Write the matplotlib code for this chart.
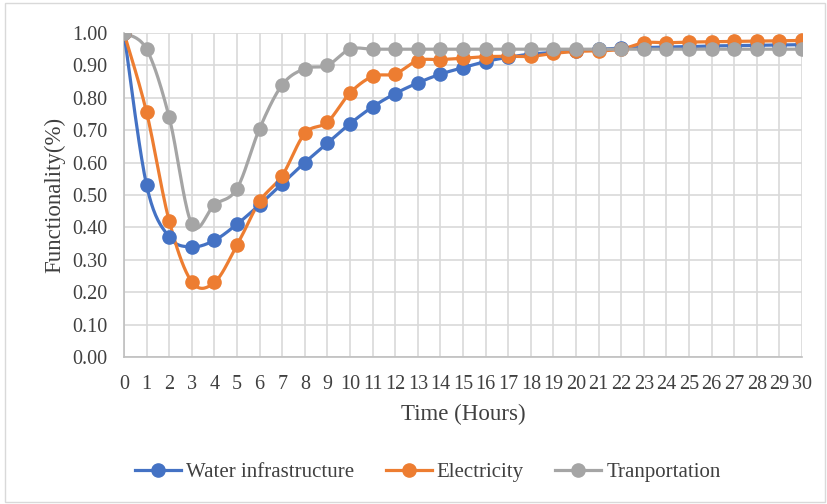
import numpy as np
import matplotlib
matplotlib.use("Agg")
import matplotlib.pyplot as plt
from matplotlib.lines import Line2D

hours = list(range(31))
water = [1.00, 0.53, 0.37, 0.34, 0.36, 0.41, 0.47, 0.535, 0.60, 0.66, 0.72,
         0.772, 0.813, 0.846, 0.873, 0.893, 0.912, 0.925, 0.935, 0.94, 0.945,
         0.95, 0.953, 0.955, 0.957, 0.958, 0.96, 0.961, 0.962, 0.963, 0.964]
electricity = [1.00, 0.755, 0.42, 0.232, 0.23, 0.345, 0.48, 0.56, 0.69, 0.725, 0.815,
               0.866, 0.874, 0.915, 0.918, 0.922, 0.927, 0.928, 0.928, 0.937, 0.943,
               0.945, 0.95, 0.97, 0.97, 0.972, 0.973, 0.974, 0.975, 0.976, 0.977]
transport = [1.00, 0.95, 0.74, 0.41, 0.47, 0.52, 0.705, 0.84, 0.89, 0.90, 0.95,
             0.95, 0.95, 0.95, 0.95, 0.95, 0.95, 0.95, 0.95, 0.95, 0.95,
             0.95, 0.95, 0.95, 0.95, 0.95, 0.95, 0.95, 0.95, 0.95, 0.95]
names = ["Water infrastructure", "Electricity", "Tranportation"]
colors = ["#4472C4", "#ED7D31", "#A5A5A5"]

plt.rcParams['font.family'] = ['Liberation Serif', 'DejaVu Serif']


def smooth(x, y, n=20):
    # catmull-rom style curve through the points, like excel's smoothed line
    x = np.asarray(x, float)
    y = np.asarray(y, float)
    px = np.concatenate([[x[0]], x, [x[-1]]])
    py = np.concatenate([[y[0]], y, [y[-1]]])
    xs, ys = [], []
    t = np.linspace(0, 1, n, endpoint=False)
    for i in range(1, len(px) - 2):
        p0, p1, p2, p3 = py[i - 1], py[i], py[i + 1], py[i + 2]
        q0, q1, q2, q3 = px[i - 1], px[i], px[i + 1], px[i + 2]
        for a, b, c, d, out in ((q0, q1, q2, q3, xs), (p0, p1, p2, p3, ys)):
            m1 = (c - a) / 6
            m2 = (d - b) / 6
            c1 = b + m1
            c2 = c - m2
            out.extend((1 - t) ** 3 * b + 3 * (1 - t) ** 2 * t * c1 + 3 * (1 - t) * t ** 2 * c2 + t ** 3 * c)
    xs.append(x[-1])
    ys.append(y[-1])
    return np.array(xs), np.array(ys)


fig = plt.figure(figsize=(8.28, 5.04), dpi=100)
ax = fig.add_axes([124 / 828, 1 - 357 / 504, (802 - 124) / 828, (357 - 33) / 504])

for data, name, col in zip([water, electricity, transport], names, colors):
    sx, sy = smooth(hours, data)
    ax.plot(sx, sy, color=col, lw=2.3, solid_capstyle='round', zorder=3)
    ax.plot(hours, data, 'o', color=col, ms=9.5, zorder=4)

ax.set_xlim(0, 30)
ax.set_ylim(0, 1.0)
ax.set_xticks(hours)
ax.set_yticks(np.arange(0, 1.01, 0.1))
ax.set_yticklabels(["%.2f" % v for v in np.arange(0, 1.01, 0.1)])
ax.grid(True, color='#D9D9D9', lw=1.2)
ax.set_axisbelow(True)
for s in ['top', 'right']:
    ax.spines[s].set_visible(False)
for s in ['left', 'bottom']:
    ax.spines[s].set_color('#BFBFBF')
    ax.spines[s].set_linewidth(1.2)
ax.tick_params(length=0, labelsize=14.5, colors='#404040')
ax.tick_params(axis='x', pad=13)
ax.tick_params(axis='y', pad=12)
ax.set_xlabel("Time (Hours)", fontsize=16.5, color='#404040', labelpad=7)
ax.set_ylabel("Functionality(%)", fontsize=16.5, color='#404040', labelpad=5)

handles = [Line2D([0], [0], color=c, lw=2.3, marker='o', ms=9.5) for c in colors]
fig.legend(handles, names, loc='center', bbox_to_anchor=(428 / 828, 1 - 472 / 504), ncol=3,
           frameon=False, fontsize=15, handlelength=2.2, columnspacing=1.5,
           handletextpad=0.25, labelcolor='#404040')

fig.add_artist(plt.Rectangle((0.006, 0.004), 0.99, 0.99, transform=fig.transFigure,
                             fill=False, edgecolor='#D9D9D9', lw=1.0))

fig.savefig("out.png", dpi=100)
